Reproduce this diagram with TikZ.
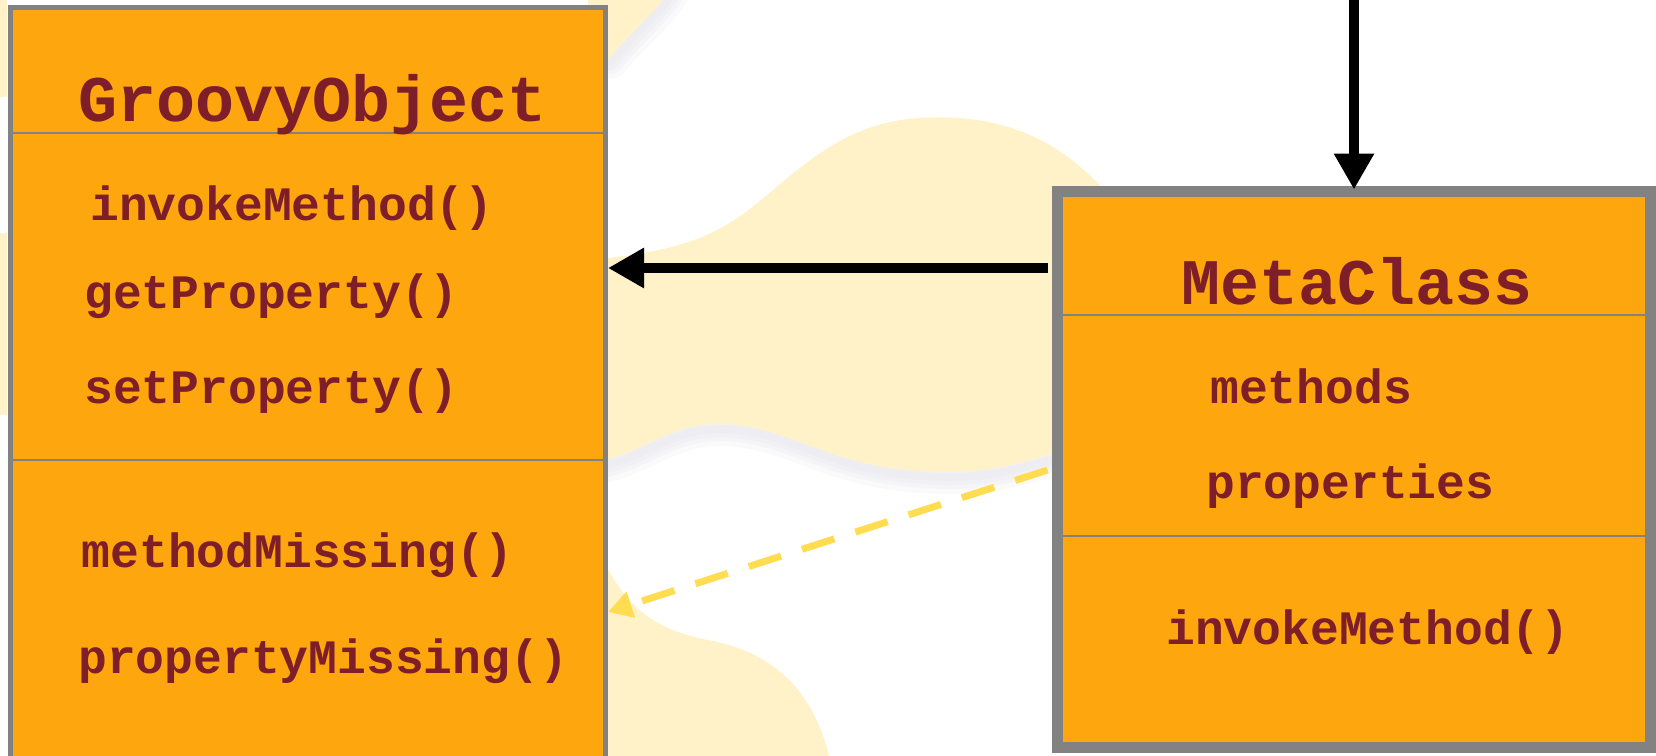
\documentclass[tikz,border=0pt]{standalone}
\usepackage{fontspec}
\newfontfamily\classfont{Liberation Mono}
\usetikzlibrary{arrows.meta}

\definecolor{boxfill}{HTML}{FDA60E}
\definecolor{boxline}{HTML}{828282}
\definecolor{ink}{HTML}{7D1E28}
\definecolor{blob}{HTML}{FFF2C9}
\definecolor{blobshade}{HTML}{D4D4E0}
\definecolor{dashyellow}{HTML}{FFDC50}

\tikzset{
  classbox/.style={draw=boxline, fill=boxfill, inner sep=0pt, outer sep=0pt, anchor=north west},
  divider/.style={draw=boxline, line width=2pt},
  classname/.style={font=\classfont\bfseries\fontsize{65pt}{65pt}\selectfont, text=ink, inner sep=0pt, anchor=base},
  member/.style={font=\classfont\bfseries\fontsize{48pt}{48pt}\selectfont, text=ink, inner sep=0pt, anchor=base west},
  callarrow/.style={draw=black, line width=10pt, -{Triangle[length=36pt,width=38pt]}},
  fallback/.style={draw=dashyellow, line width=7pt, dash pattern=on 34pt off 22pt,
    -{Triangle[length=24pt,width=26pt,fill=dashyellow]}},
  blobfill/.style={fill=blob, draw=blob, line width=4pt, line join=round},
  haze/.style={draw=blobshade, line cap=round, line join=round, opacity=0.11}
}

\begin{document}
\begin{tikzpicture}[x=1pt,y=-1pt]
\useasboundingbox[fill=white] (0,0) rectangle (1656,755);

% pale logo shapes in the background
\fill[blob] (0,0) rectangle (7,97);
\fill[blob] (0,233) rectangle (7,415);

% soft shading under the logo edges
\foreach \w in {34,24,16,8} {
  \draw[haze, line width=\w pt, shift={(2,7)}]
    (1110,440) .. controls (1070,440) and (1020,470) .. (950,470)
    .. controls (880,470) and (840,455) .. (800,440)
    .. controls (760,425) and (720,415) .. (680,428)
    .. controls (650,438) and (630,452) .. (608,457) -- (580,465);
  \draw[haze, line width=\w pt, shift={(4,4)}]
    (668,-10) .. controls (650,15) and (625,35) .. (607,58);
}

% central shape
\path[blobfill] (560,266) -- (608,260)
  .. controls (650,255) and (695,248) .. (735,222)
  .. controls (785,190) and (830,125) .. (920,120)
  .. controls (1000,115) and (1060,140) .. (1110,200)
  -- (1110,440)
  .. controls (1070,440) and (1020,470) .. (950,470)
  .. controls (880,470) and (840,455) .. (800,440)
  .. controls (760,425) and (720,415) .. (680,428)
  .. controls (650,438) and (630,452) .. (608,457)
  -- (560,470) -- cycle;
% upper left corner shape
\path[blobfill] (590,-10) -- (668,-10)
  .. controls (650,15) and (625,35) .. (607,58) -- (590,70) -- cycle;
% lower shape
\path[blobfill] (590,540) .. controls (620,600) and (640,630) .. (713,643)
  .. controls (770,655) and (815,690) .. (830,770) -- (590,770) -- cycle;

% GroovyObject class
\node[classbox, line width=5pt, minimum width=595pt, minimum height=770pt]
  (go) at (10,7.5) {};
\draw[divider] (go.west |- 0,133) -- (go.east |- 0,133);
\draw[divider] (go.west |- 0,460) -- (go.east |- 0,460);
\node[classname] (goname) at (313,121) {GroovyObject};
\node[member] (goinvoke) at (90,220) {invokeMethod()};
\node[member] (goget) at (84,308) {getProperty()};
\node[member] (goset) at (84,403) {setProperty()};
\node[member] (gomm) at (81.5,567) {methodMissing()};
\node[member] (gopm) at (78,673) {propertyMissing()};

% MetaClass class
\node[classbox, line width=11pt, minimum width=593pt, minimum height=556pt]
  (mc) at (1057.5,191.5) {};
\draw[divider] (mc.west |- 0,315) -- (mc.east |- 0,315);
\draw[divider] (mc.west |- 0,536) -- (mc.east |- 0,536);
\node[classname] (mcname) at (1357,304) {MetaClass};
\node[member] (mcmethods) at (1210,403) {methods};
\node[member] (mcprops) at (1206,498) {properties};
\node[member] (mcinvoke) at (1166,644) {invokeMethod()};

% connectors
\coordinate (entry) at (mc.north |- 0,-10);
\draw[callarrow] (entry) -- ([yshift=2pt]mc.north);
\draw[callarrow] ([xshift=-10pt]mc.west |- 0,268) -- ([xshift=3pt]go.east |- 0,268);
\draw[fallback] ([xshift=-10pt]mc.west |- 0,470) -- ([xshift=3pt]go.east |- 0,612);
\end{tikzpicture}
\end{document}
